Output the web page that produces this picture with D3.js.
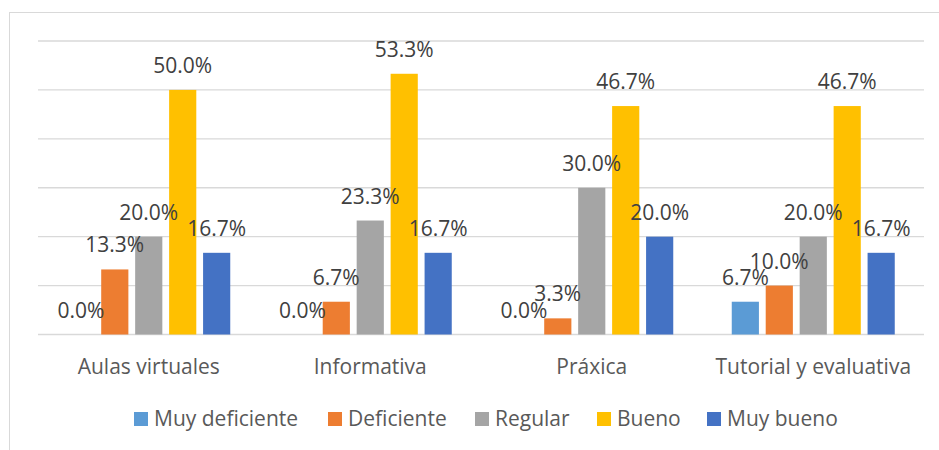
<!DOCTYPE html>
<html lang="es">
<head>
  <meta charset="utf-8">
  <title>Chart</title>
  <script src="https://cdn.jsdelivr.net/npm/d3@7"></script>
  <style>
    body { margin: 0; background: #fff; }
    text { font-family: "Open Sans", sans-serif; }
  </style>
</head>
<body>
<script>
// categorias y series
var categories = ["Aulas virtuales", "Informativa", "Práxica", "Tutorial y evaluativa"];
var series = ["Muy deficiente", "Deficiente", "Regular", "Bueno", "Muy bueno"];
var colors = ["#5B9BD5", "#ED7D31", "#A5A5A5", "#FFC000", "#4472C4"];

var muyDeficiente = [0.0, 0.0, 0.0, 6.7];
var deficiente = [13.3, 6.7, 3.3, 10.0];
var regular = [20.0, 23.3, 30.0, 20.0];
var bueno = [50.0, 53.3, 46.7, 46.7];
var muyBueno = [16.7, 16.7, 20.0, 16.7];
var values = [muyDeficiente, deficiente, regular, bueno, muyBueno];

var yTicks = [0, 10, 20, 30, 40, 50, 60];

var width = 939, height = 450;
var plotLeft = 38, plotRight = 924, plotTop = 41, plotBottom = 334.5;

var svg = d3.select("body").append("svg")
  .attr("width", width)
  .attr("height", height);

// marco del grafico
svg.append("rect")
  .attr("x", 9.5).attr("y", 12.5)
  .attr("width", 960).attr("height", 460)
  .attr("fill", "#fff")
  .attr("stroke", "#d9d9d9");

var x = d3.scaleBand().domain(categories).range([plotLeft, plotRight]);
var x1 = d3.scaleBand().domain(series).range([0, 163]).paddingInner(0.2);
var y = d3.scaleLinear().domain([0, 60]).range([plotBottom, plotTop]);

// grilla
svg.append("g")
  .selectAll("line")
  .data(yTicks)
  .enter().append("line")
  .attr("x1", plotLeft).attr("x2", plotRight)
  .attr("y1", d => y(d)).attr("y2", d => y(d))
  .attr("stroke", "#d9d9d9")
  .attr("stroke-width", 1.3);

var rows = [];
categories.forEach((c, i) => {
  series.forEach((s, j) => {
    rows.push({ cat: c, ser: s, v: values[j][i], color: colors[j] });
  });
});

var groupOffset = (x.bandwidth() - 163) / 2;

svg.append("g")
  .selectAll("rect")
  .data(rows)
  .enter().append("rect")
  .attr("x", d => x(d.cat) + groupOffset + x1(d.ser))
  .attr("y", d => y(d.v))
  .attr("width", x1.bandwidth())
  .attr("height", d => plotBottom - y(d.v))
  .attr("fill", d => d.color);

// etiquetas de datos
svg.append("g")
  .selectAll("text")
  .data(rows)
  .enter().append("text")
  .attr("x", d => x(d.cat) + groupOffset + x1(d.ser) + x1.bandwidth() / 2)
  .attr("y", d => y(d.v) - 17)
  .attr("text-anchor", "middle")
  .attr("font-size", "21px")
  .attr("fill", "#404040")
  .text(d => d.v.toFixed(1) + "%");

// categorias
svg.append("g")
  .selectAll("text")
  .data(categories)
  .enter().append("text")
  .attr("x", d => x(d) + x.bandwidth() / 2)
  .attr("y", 374)
  .attr("text-anchor", "middle")
  .attr("font-size", "21px")
  .attr("fill", "#595959")
  .text(d => d);

// leyenda
var legendX = [134, 328, 475, 597, 707];
var legend = svg.append("g")
  .selectAll("g")
  .data(series)
  .enter().append("g")
  .attr("transform", (d, i) => "translate(" + legendX[i] + ",412)");

legend.append("rect")
  .attr("width", 14).attr("height", 14)
  .attr("fill", (d, i) => colors[i]);

legend.append("text")
  .attr("x", 20).attr("y", 14)
  .attr("font-size", "21px")
  .attr("fill", "#595959")
  .text(d => d);
</script>
</body>
</html>
